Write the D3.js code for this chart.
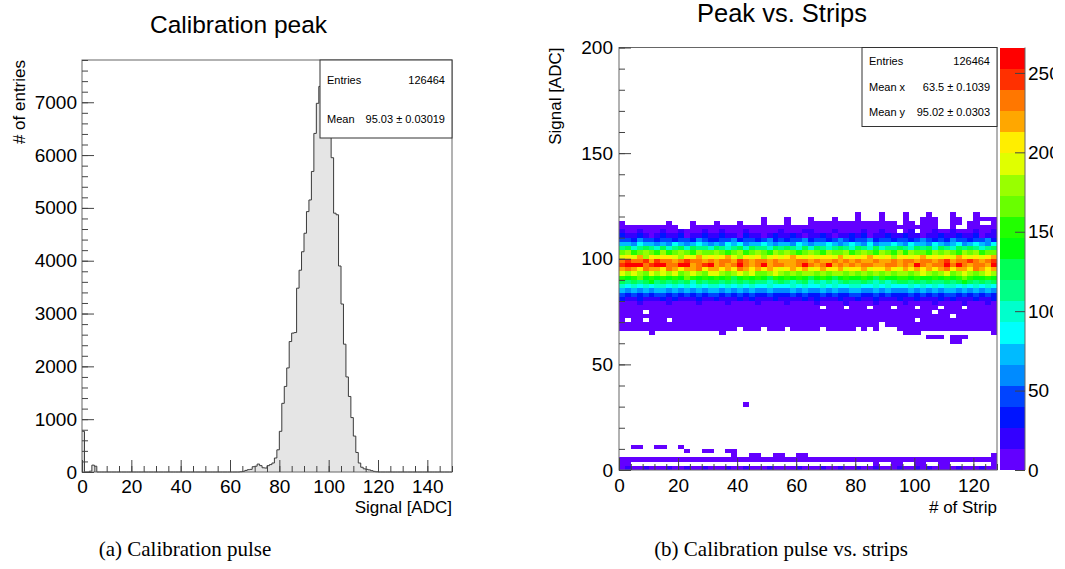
<!DOCTYPE html>
<html>
<head>
<meta charset="utf-8">
<script src="https://cdn.jsdelivr.net/npm/d3@7"></script>
<style>
  body { margin: 0; background: #fff; }
  svg text { font-family: "Liberation Sans", Arial, Helvetica, sans-serif; fill: #000; }
  svg text.caption { font-family: "Liberation Serif", "DejaVu Serif", serif; }
</style>
</head>
<body>
<svg id="fig" width="1065" height="569"></svg>
<script>
// ---- data: 1D calibration peak, bins of 1 ADC from 0 to 150 ----
const histValues = [
  770, 0, 0, 15, 130, 110, 0, 0, 0, 0,              // 0-9
  0, 0, 0, 0, 0, 0, 0, 0, 0, 0,                     // 10-19
  0, 0, 0, 0, 0, 0, 0, 0, 0, 0,                     // 20-29
  0, 0, 0, 0, 0, 0, 0, 0, 0, 0,                     // 30-39
  0, 0, 0, 0, 0, 0, 0, 0, 0, 0,                     // 40-49
  0, 0, 0, 0, 0, 0, 0, 0, 0, 0,                     // 50-59
  0, 0, 0, 0, 5, 12, 30, 44, 50, 100,               // 60-69
  110, 150, 120, 80, 75, 120, 140, 170, 265, 420,   // 70-79
  770, 1300, 1620, 1970, 2470, 2630, 2640, 3480, 3820, 4170,  // 80-89
  4520, 4930, 5150, 5690, 6410, 6980, 7300, 7250, 6950, 6650, // 90-99
  6400, 5950, 4900, 4870, 3900, 3180, 2420, 1800, 1430, 1030, // 100-109
  680, 370, 170, 90, 60, 50, 40, 25, 12, 5,         // 110-119
  0, 0, 0, 0, 0, 0, 0, 0, 0, 0,                     // 120-129
  0, 0, 0, 0, 0, 0, 0, 0, 0, 0,                     // 130-139
  0, 0, 0, 0, 0, 0, 0, 0, 0, 0                      // 140-149
];
const histStats = [["Entries", "126464"], ["Mean", "95.03 \u00b1 0.03019"]];

// ---- data: 2D peak vs strips, 64 strip bins (2 strips) x 100 signal bins (2 ADC) ----
// each row = lower edge of the signal bin, one char per strip bin:
// '.' empty, '0'..'9','a'..'j' = colour level 0..19 read from the palette
const levelKeys = "0123456789abcdefghij";
const rowSignal = [120, 118, 116, 114, 112, 110, 108, 106, 104, 102, 100, 98, 96, 94, 92, 90,
  88, 86, 84, 82, 80, 78, 76, 74, 72, 70, 68, 66, 64, 62, 60, 30, 10, 8, 6, 4, 2, 0];
const rowCells = [
  ["........","........","........","........","........","0...0...","0...0...","0...0..."],
  ["........","........","........","0...0...","0...0...","0...0...","0..000..","00..0000"],
  ["0.......","0...0...","0...0...","0...0...","00000000","0000000.","00.000..","00.00..0"],
  ["00000000","00..0000","00000000","00000000","00000000","00000000","000000..","0..00000"],
  ["10010001","00100010","01000100","00010001","10001000","0100100.","01.00100","10001001"],
  ["21121012","11201121","12110211","01211210","11210112","12011211","21101121","12112011"],
  ["33243323","32332432","23342332","34232334","23323432","33423323","32343232","43323342"],
  ["55465545","46545654","54656455","65455465","45565456","54645565","46554654","56456546"],
  ["89789879","78979887","98789798","87989879","79878987","98797889","87989798","79898789"],
  ["cdbcdcbd","bcdcbdcc","dcbcdbcd","cbdcdcbc","dcbdccdb","cdcbdcbd","bdccbdcd","cbdcdbcc"],
  ["efegdfef","fedfegef","efgedfef","defefgfe","feffegef","efgfefdf","fefgefef","egfefefg"],
  ["hihhigih","hghihhgh","ghhgihgh","hghggghh","ghgghghg","hgghgghg","hhghhghi","ghhihghi"],
  ["ijjjhijj","hhjjghij","ghghjhgh","jghhgghj","hghjghgh","ghhgghhg","hgjhghhj","hjhghhgj"],
  ["ghgfhggf","hgfgghfg","gfgfhgfg","fgfefgfg","efgffgef","fgeffgfe","gfgfgfgh","fggfhgfg"],
  ["ededcede","decdedce","edcdedec","cdedcdcd","dcdcddcd","cdcdcdcd","dcdedcde","cdedcded"],
  ["babcabab","abacbaba","bab9abab","a9bababa","9aba9aba","aba9baab","babaabab","abcbaaba"],
  ["98989a89","89897989","98989898","87898789","78787898","89878789","98989889","89a98989"],
  ["76767677","67676767","76767676","67666767","66767667","76676766","67676767","76767676"],
  ["54545455","45454545","54545454","45444545","44545445","54454544","45454545","54545454"],
  ["32323233","23232323","32323232","23222323","22323223","32232322","23232323","32323232"],
  ["21121112","12111211","21112121","11211112","12111211","21121112","11211121","21112112"],
  ["00010000","10000100","00100001","00001000","01000010","00010000","10000100","00100010"],
  ["00000000","00000000","00000000","00000000","00.000.0","00.000.0","00.000.0","00.00000"],
  ["0000.000","00000000","00000000","00000000","00000000","00000000","00000.00","00000000"],
  ["00000000","00000000","00000000","00000000","00000000","00000000","00000000",".0000000"],
  ["0.00.000",".0000000","00000000","00000000","00000000","00000000","00.00000","00000000"],
  ["00000000","00000000","00000000","00000000","00000000","0000.000","00000000","00000000"],
  ["00000000","00000000","0000.000",".000.000","00.00000",".0.0...0","00000000","00000000"],
  [".....0..","........",".0......","........","........","........","000.....",".......0"],
  ["........","........","........","........","........","........","....000.","000....."],
  ["........","........","........","........","........","........","........","00......"],
  ["........","........",".....0..","........","........","........","........","........"],
  ["..00..00","..0.....","........","........","........","........","........","........"],
  ["........","...0..00","..00....","........","........","........","........","........"],
  ["........","........","...0..00","..00..00","........","........","........",".......0"],
  ["00000000","00000000","00000000","00000000","00000000","00000000","00000000","00000000"],
  ["00......","........","........","........","........","...0..00","..00..00",".......0"],
  ["01001000","10010010","00100100","01000010","00100100","10010001","00101000","01000100"]
].map(g => g.join(""));
const zMax = 266;
const heatStats = [["Entries", "126464"], ["Mean x", "63.5 \u00b1 0.1039"], ["Mean y", "95.02 \u00b1 0.0303"]];

// ROOT "pretty" palette, 20 contour colours
const palette = ["#6300ff","#3300ff","#0014ff","#0044ff","#008bff","#00bbff","#00fffc","#00ffcc",
  "#00ff85","#00ff55","#00ff0e","#22ff00","#69ff00","#99ff00","#e0ff00","#ffee00",
  "#ffa700","#ff7700","#ff3000","#ff0000"];

const svg = d3.select('#fig');
const axisColor = '#444';
const fmt = d3.format('d');

// style ticks drawn with d3.axis
function styleAxis(g, fontSize) {
  g.select('.domain').remove();
  g.selectAll('.tick line').attr('stroke', axisColor).attr('stroke-width', 1);
  g.selectAll('.tick text').attr('font-size', fontSize).attr('fill', '#000')
    .attr('font-family', '"Liberation Sans", Arial, sans-serif');
}

// ================= left: Calibration peak =================
const hf = { left: 82, right: 452, top: 60, bottom: 472 };
const xHist = d3.scaleLinear().domain([0, 150]).range([hf.left, hf.right]);
const yHist = d3.scaleLinear().domain([0, 7800]).range([hf.bottom, hf.top]);

const histPts = histValues.map((v, i) => [i, v]);
histPts.push([150, histValues[histValues.length - 1]]);

const left = svg.append('g');
left.append('path').datum(histPts)
  .attr('d', d3.area().curve(d3.curveStepAfter)
    .x(d => xHist(d[0])).y0(yHist(0)).y1(d => yHist(d[1])))
  .attr('fill', '#e5e5e5');
left.append('path').datum(histPts)
  .attr('d', d3.line().curve(d3.curveStepAfter).x(d => xHist(d[0])).y(d => yHist(d[1])))
  .attr('fill', 'none').attr('stroke', '#3a3a3a').attr('stroke-width', 1);

left.append('rect')
  .attr('x', hf.left).attr('y', hf.top)
  .attr('width', hf.right - hf.left).attr('height', hf.bottom - hf.top)
  .attr('fill', 'none').attr('stroke', '#666').attr('stroke-width', 1);

// x ticks
left.append('g').attr('transform', `translate(0,${hf.bottom})`)
  .call(d3.axisBottom(xHist).tickValues(d3.range(0, 151, 5)).tickSize(-6).tickFormat(''))
  .call(g => styleAxis(g, 19));
left.append('g').attr('transform', `translate(0,${hf.bottom})`)
  .call(d3.axisBottom(xHist).tickValues(d3.range(0, 141, 20)).tickSize(-12).tickPadding(8).tickFormat(fmt))
  .call(g => styleAxis(g, 19));
// y ticks
left.append('g').attr('transform', `translate(${hf.left},0)`)
  .call(d3.axisLeft(yHist).tickValues(d3.range(0, 7801, 200)).tickSize(-6).tickFormat(''))
  .call(g => styleAxis(g, 19));
left.append('g').attr('transform', `translate(${hf.left},0)`)
  .call(d3.axisLeft(yHist).tickValues(d3.range(0, 7001, 1000)).tickSize(-12).tickPadding(5).tickFormat(fmt))
  .call(g => styleAxis(g, 19));

left.append('text').attr('x', 238.5).attr('y', 33).attr('text-anchor', 'middle')
  .attr('font-size', 24.5).text('Calibration peak');
left.append('text').attr('x', hf.right).attr('y', 513).attr('text-anchor', 'end')
  .attr('font-size', 17).text('Signal [ADC]');
left.append('text').attr('transform', `translate(25,${hf.top}) rotate(-90)`)
  .attr('text-anchor', 'end').attr('font-size', 17).text('# of entries');

// stats box
const hBox = { x: 320, y: hf.top, w: hf.right - 320, h: 78 };
left.append('rect').attr('x', hBox.x).attr('y', hBox.y).attr('width', hBox.w).attr('height', hBox.h)
  .attr('fill', '#fff').attr('stroke', '#333').attr('stroke-width', 1);
histStats.forEach((s, i) => {
  const yy = 84 + i * 38.5;
  left.append('text').attr('x', hBox.x + 7).attr('y', yy).attr('font-size', 11).text(s[0]);
  left.append('text').attr('x', hf.right - 7).attr('y', yy).attr('text-anchor', 'end')
    .attr('font-size', 11).text(s[1]);
});

// ================= right: Peak vs. Strips =================
svg.append('clipPath').attr('id', 'rclip').append('rect')
  .attr('x', 530).attr('y', -20).attr('width', 523).attr('height', 600);
const right = svg.append('g').attr('clip-path', 'url(#rclip)');

const rf = { left: 619, right: 997, top: 47.5, bottom: 470 };
const xStrip = d3.scaleLinear().domain([0, 128]).range([rf.left, rf.right]);
const ySig = d3.scaleLinear().domain([0, 200]).range([rf.bottom, rf.top]);
const zColor = d3.scaleQuantize().domain([0, zMax]).range(palette);

const cells = [];
rowSignal.forEach((sig, r) => {
  rowCells[r].split('').forEach((ch, i) => {
    if (ch === '.') return;
    const level = levelKeys.indexOf(ch);
    cells.push({ strip: i * 2, sig: sig, count: (level + 0.5) * zMax / palette.length });
  });
});

right.append('g').selectAll('rect').data(cells).join('rect')
  .attr('x', d => xStrip(d.strip))
  .attr('y', d => ySig(d.sig + 2))
  .attr('width', d => xStrip(d.strip + 2) - xStrip(d.strip) + 0.3)
  .attr('height', d => ySig(d.sig) - ySig(d.sig + 2) + 0.3)
  .attr('fill', d => zColor(d.count))
  .attr('shape-rendering', 'crispEdges');

right.append('rect')
  .attr('x', rf.left).attr('y', rf.top)
  .attr('width', rf.right - rf.left).attr('height', rf.bottom - rf.top)
  .attr('fill', 'none').attr('stroke', '#666').attr('stroke-width', 1);

right.append('g').attr('transform', `translate(0,${rf.bottom})`)
  .call(d3.axisBottom(xStrip).tickValues(d3.range(0, 129, 4)).tickSize(-6).tickFormat(''))
  .call(g => styleAxis(g, 19));
right.append('g').attr('transform', `translate(0,${rf.bottom})`)
  .call(d3.axisBottom(xStrip).tickValues(d3.range(0, 121, 20)).tickSize(-12).tickPadding(9).tickFormat(fmt))
  .call(g => styleAxis(g, 19));
right.append('g').attr('transform', `translate(${rf.left},0)`)
  .call(d3.axisLeft(ySig).tickValues(d3.range(0, 201, 10)).tickSize(-6).tickFormat(''))
  .call(g => styleAxis(g, 19));
right.append('g').attr('transform', `translate(${rf.left},0)`)
  .call(d3.axisLeft(ySig).tickValues(d3.range(0, 201, 50)).tickSize(-12).tickPadding(6).tickFormat(fmt))
  .call(g => styleAxis(g, 19));

right.append('text').attr('x', 782).attr('y', 21.5).attr('text-anchor', 'middle')
  .attr('font-size', 25.5).text('Peak vs. Strips');
right.append('text').attr('x', rf.right).attr('y', 513).attr('text-anchor', 'end')
  .attr('font-size', 17).text('# of Strip');
right.append('text').attr('transform', `translate(561,${rf.top}) rotate(-90)`)
  .attr('text-anchor', 'end').attr('font-size', 17).text('Signal [ADC]');

// stats box
const rBox = { x: 862, y: rf.top, w: rf.right - 862, h: 79 };
right.append('rect').attr('x', rBox.x).attr('y', rBox.y).attr('width', rBox.w).attr('height', rBox.h)
  .attr('fill', '#fff').attr('stroke', '#333').attr('stroke-width', 1);
heatStats.forEach((s, i) => {
  const yy = 65 + i * 25.5;
  right.append('text').attr('x', rBox.x + 7).attr('y', yy).attr('font-size', 11).text(s[0]);
  right.append('text').attr('x', rf.right - 7).attr('y', yy).attr('text-anchor', 'end')
    .attr('font-size', 11).text(s[1]);
});

// colour bar
const cb = { left: 1000, right: 1025 };
const zScale = d3.scaleLinear().domain([0, zMax]).range([rf.bottom, rf.top]);
right.append('g').selectAll('rect').data(palette).join('rect')
  .attr('x', cb.left).attr('width', cb.right - cb.left)
  .attr('y', (c, i) => zScale((i + 1) * zMax / palette.length))
  .attr('height', (c, i) => zScale(i * zMax / palette.length) - zScale((i + 1) * zMax / palette.length) + 0.3)
  .attr('fill', c => c).attr('shape-rendering', 'crispEdges');
right.append('line').attr('x1', cb.right).attr('x2', cb.right)
  .attr('y1', rf.top).attr('y2', rf.bottom).attr('stroke', '#666');
right.append('g').attr('transform', `translate(${cb.right},0)`)
  .call(d3.axisRight(zScale).tickValues(d3.range(0, 251, 50)).tickSize(-10).tickPadding(3).tickFormat(fmt))
  .call(g => styleAxis(g, 19));

// ================= captions =================
svg.append('text').attr('class', 'caption').attr('x', 185).attr('y', 556)
  .attr('text-anchor', 'middle').attr('font-size', 21).text('(a) Calibration pulse');
svg.append('text').attr('class', 'caption').attr('x', 781).attr('y', 556)
  .attr('text-anchor', 'middle').attr('font-size', 21).text('(b) Calibration pulse vs. strips');
</script>
</body>
</html>
